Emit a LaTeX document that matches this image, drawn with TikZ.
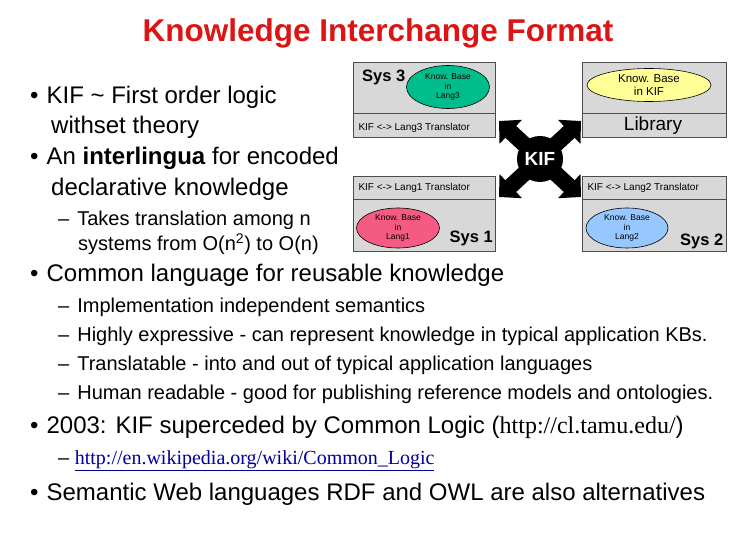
\documentclass[tikz,border=0pt]{standalone}
\usepackage{fontspec}
\setmainfont{Liberation Sans}
\newfontfamily\serif{Liberation Serif}
\usetikzlibrary{shapes.geometric,arrows.meta}
\definecolor{titlered}{RGB}{220,20,20}
\definecolor{boxgray}{RGB}{216,216,216}
\definecolor{kgreen}{RGB}{0,190,140}
\definecolor{kyellow}{RGB}{255,255,150}
\definecolor{kpink}{RGB}{245,90,130}
\definecolor{kblue}{RGB}{150,200,255}
\tikzset{
 sysbox/.style={draw=black!70,fill=boxgray,line width=0.6pt},
 kb/.style={ellipse,draw=black,line width=0.6pt,align=center,inner sep=0pt,font=\fontsize{8.5}{9.5}\selectfont},
 small/.style={font=\fontsize{10}{11}\selectfont,anchor=west},
 txt/.style={anchor=west,inner sep=0pt,font=\fontsize{24}{28}\selectfont},
 subtxt/.style={anchor=west,inner sep=0pt,font=\fontsize{20}{24}\selectfont},
}
\begin{document}
\begin{tikzpicture}[x=1pt,y=-1pt]
\useasboundingbox (0,0) rectangle (756,540);
\node[text=titlered,font=\bfseries\fontsize{31.5}{34}\selectfont] (title) at (378,33) {Knowledge Interchange Format};
% boxes
\draw[sysbox] (353,62) rectangle (495,137); \draw[black!70] (353,113) -- (495,113);
\draw[sysbox] (582,62) rectangle (726,137); \draw[black!70] (582,113) -- (726,113);
\draw[sysbox] (353,176) rectangle (495,251); \draw[black!70] (353,199) -- (495,199);
\draw[sysbox] (582,176) rectangle (726,251); \draw[black!70] (582,199) -- (726,199);
\node[anchor=west,font=\bfseries\fontsize{16.5}{18}\selectfont,inner sep=0pt] (s3) at (362,77) {Sys 3};
\node[kb,fill=kgreen,minimum width=83,minimum height=43] (kb3) at (448,87) {Know. Base\\in\\Lang3};
\node[kb,fill=kyellow,minimum width=124,minimum height=33,font=\fontsize{11.5}{13}\selectfont] (kbk) at (649,85) {Know. Base\\in KIF};
\node[font=\fontsize{19}{21}\selectfont] (lib) at (653,126) {Library};
\node[small] (t3) at (355,128) {KIF <-> Lang3 Translator};
\node[small] (t1) at (355,188) {KIF <-> Lang1 Translator};
\node[small] (t2) at (584,188) {KIF <-> Lang2 Translator};
\node[kb,fill=kpink,minimum width=83,minimum height=40] (kb1) at (398,228) {Know. Base\\in\\Lang1};
\node[kb,fill=kblue,minimum width=82,minimum height=40] (kb2) at (627,228) {Know. Base\\in\\Lang2};
\node[anchor=east,font=\bfseries\fontsize{16.5}{18}\selectfont,inner sep=0pt] (s1) at (493,238) {Sys 1};
\node[anchor=west,font=\bfseries\fontsize{16.5}{18}\selectfont,inner sep=0pt] (s2) at (680,241) {Sys 2};
% KIF cross
\coordinate (kc) at (540,159);
\draw[line width=16pt,{Triangle[length=16pt,width=32pt]}-{Triangle[length=16pt,width=32pt]}] (499,121) -- (581,197);
\draw[line width=16pt,{Triangle[length=16pt,width=32pt]}-{Triangle[length=16pt,width=32pt]}] (581,121) -- (499,197);
\fill (kc) circle (23pt);
\node[text=white,font=\bfseries\fontsize{19}{21}\selectfont] (kif) at (kc) {KIF};
% text
\node[txt] (b1) at (30,97) {•\hspace{8pt}KIF \textasciitilde{} First order logic};
\node[txt] (b1b) at (51,127) {withset theory};
\node[txt] (b2) at (30,158) {•\hspace{8pt}An \textbf{interlingua} for encoded};
\node[txt] (b2b) at (51,189) {declarative knowledge};
\node[subtxt] (sb1) at (58,220) {–\hspace{8pt}Takes translation among n};
\node[subtxt] (sb1b) at (78,244) {systems from O(n\textsuperscript{2}) to O(n)};
\node[txt] (b3) at (30,275) {•\hspace{8pt}Common language for reusable knowledge};
\node[subtxt] (d1) at (58,307) {–\hspace{8pt}Implementation independent semantics};
\node[subtxt] (d2) at (58,336) {–\hspace{8pt}Highly expressive - can represent knowledge in typical application KBs.};
\node[subtxt] (d3) at (58,365) {–\hspace{8pt}Translatable - into and out of typical application languages};
\node[subtxt] (d4) at (58,394) {–\hspace{8pt}Human readable - good for publishing reference models and ontologies.};
\node[txt] (b4) at (30,427) {•\hspace{8pt}2003: KIF superceded by Common Logic ({\serif http://cl.tamu.edu/})};
\node[subtxt] (d5) at (58,461) {– {\serif\color{blue!60!black}\underline{http://en.wikipedia.org/wiki/Common\_Logic}}};
\node[txt] (b5) at (30,494) {•\hspace{8pt}Semantic Web languages RDF and OWL are also alternatives};
\end{tikzpicture}
\end{document}
